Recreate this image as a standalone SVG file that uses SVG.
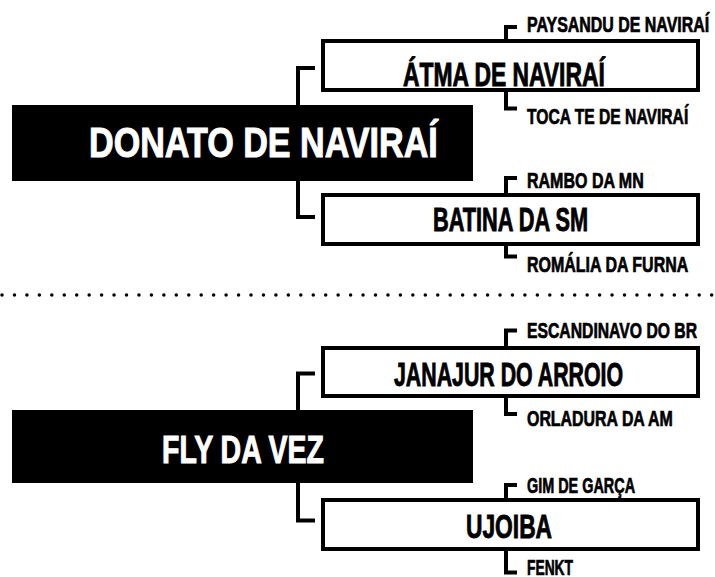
<svg xmlns="http://www.w3.org/2000/svg" width="715" height="577" viewBox="0 0 715 577">
<style>
.root{fill:#000}
.rootTxt{fill:#fff;stroke:#fff;stroke-width:1;font-family:'Liberation Sans','DejaVu Sans',sans-serif;font-weight:bold}
.box{fill:#fff;stroke:#000;stroke-width:4}
.main{fill:#000;stroke:#000;stroke-width:0.9;font-family:'Liberation Sans','DejaVu Sans',sans-serif;font-weight:bold;font-size:33px}
.lbl{fill:#000;stroke:#000;stroke-width:0.7;font-family:'Liberation Sans','DejaVu Sans',sans-serif;font-weight:bold;font-size:22px}
.conn{fill:none;stroke:#000;stroke-width:4;stroke-linejoin:miter;stroke-linecap:butt}
.sep{fill:none;stroke:#000;stroke-width:3.5;stroke-linecap:round;stroke-dasharray:0 12.45}
</style>
<rect width="715" height="577" fill="#fff"/>
<g id="connectors">
<path class="conn" d="M315,68 H298 V105"/>
<path class="conn" d="M298,181 V217 H315"/>
<path class="conn" d="M315,373.5 H298 V410"/>
<path class="conn" d="M298,483 V520.5 H315"/>
<path class="conn" d="M517,27 H506 V41"/>
<path class="conn" d="M506,90 V108.5 H517"/>
<path class="conn" d="M517,178 H506 V195"/>
<path class="conn" d="M506,244 V256.5 H517"/>
<path class="conn" d="M517,330.5 H506 V348"/>
<path class="conn" d="M506,396 V414 H517"/>
<path class="conn" d="M517,485 H506 V500"/>
<path class="conn" d="M506,549 V572.5 H517"/>
</g>
<line id="separator" class="sep" x1="2" y1="295" x2="713" y2="295"/>
<g id="donato">
<rect class="root" x="12" y="105" width="461" height="76"/>
<text class="rootTxt" transform="translate(89,157) scale(0.8,1)" font-size="42" textLength="436" lengthAdjust="spacingAndGlyphs">DONATO DE NAVIRAÍ</text>
</g>
<g id="atma">
<rect class="box" x="323" y="41" width="375" height="49"/>
<text class="main" transform="translate(403,86) scale(0.684,1)" textLength="295" lengthAdjust="spacingAndGlyphs">ÁTMA DE NAVIRAÍ</text>
</g>
<g id="paysandu"><text class="lbl" transform="translate(527,31.5) scale(0.709,1)" textLength="257" lengthAdjust="spacingAndGlyphs">PAYSANDU DE NAVIRAÍ</text></g>
<g id="toca"><text class="lbl" transform="translate(527,124) scale(0.701,1)" textLength="230" lengthAdjust="spacingAndGlyphs">TOCA TE DE NAVIRAÍ</text></g>
<g id="batina">
<rect class="box" x="323" y="195" width="375" height="49"/>
<text class="main" transform="translate(433,231) scale(0.646,1)" textLength="240" lengthAdjust="spacingAndGlyphs">BATINA DA SM</text>
</g>
<g id="rambo"><text class="lbl" transform="translate(527,188) scale(0.725,1)" textLength="161" lengthAdjust="spacingAndGlyphs">RAMBO DA MN</text></g>
<g id="romalia"><text class="lbl" transform="translate(527,272) scale(0.72,1)" textLength="224" lengthAdjust="spacingAndGlyphs">ROMÁLIA DA FURNA</text></g>
<g id="fly">
<rect class="root" x="12" y="410" width="461" height="73"/>
<text class="rootTxt" transform="translate(162,463) scale(0.712,1)" font-size="39" textLength="227.5" lengthAdjust="spacingAndGlyphs">FLY DA VEZ</text>
</g>
<g id="janajur">
<rect class="box" x="323" y="348" width="375" height="48"/>
<text class="main" transform="translate(394,386) scale(0.664,1)" font-size="32" textLength="345" lengthAdjust="spacingAndGlyphs">JANAJUR DO ARROIO</text>
</g>
<g id="escandinavo"><text class="lbl" transform="translate(527,338) scale(0.71,1)" textLength="239.5" lengthAdjust="spacingAndGlyphs">ESCANDINAVO DO BR</text></g>
<g id="orladura"><text class="lbl" transform="translate(527,426) scale(0.715,1)" textLength="204" lengthAdjust="spacingAndGlyphs">ORLADURA DA AM</text></g>
<g id="ujoiba">
<rect class="box" x="323" y="500" width="375" height="49"/>
<text class="main" transform="translate(466,538) scale(0.711,1)" font-size="32" textLength="121" lengthAdjust="spacingAndGlyphs">UJOIBA</text>
</g>
<g id="gim"><text class="lbl" transform="translate(527,493) scale(0.655,1)" textLength="165" lengthAdjust="spacingAndGlyphs">GIM DE GARÇA</text></g>
<g id="fenkt"><text class="lbl" transform="translate(527,575) scale(0.628,1)" textLength="73.3" lengthAdjust="spacingAndGlyphs">FENKT</text></g>
</svg>
